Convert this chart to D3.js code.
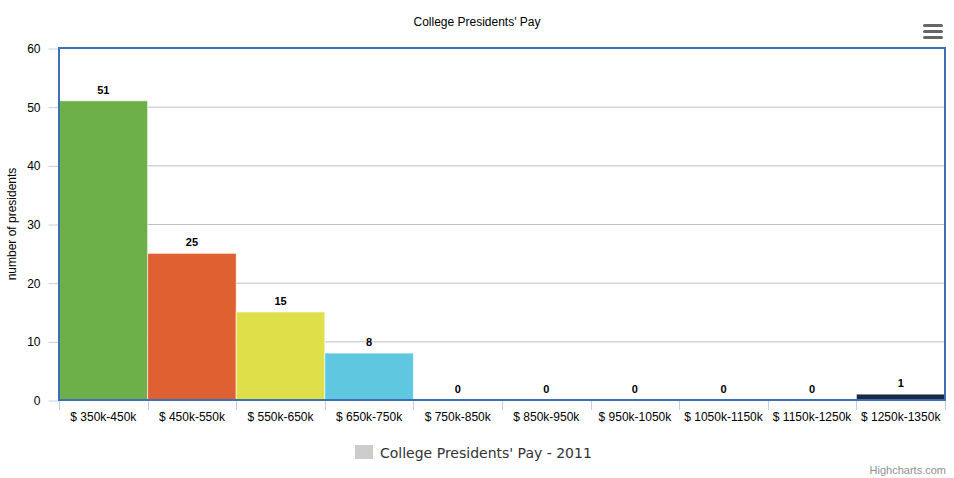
<!DOCTYPE html>
<html><head><meta charset="utf-8">
<script src="https://cdn.jsdelivr.net/npm/d3@7"></script>
<style>
body{margin:0;background:#fff;}
svg text{font-family:"Liberation Sans",Arial,sans-serif;}
</style></head>
<body><svg id="chart" width="954" height="478"></svg>
<script>
const categories = ["$ 350k-450k","$ 450k-550k","$ 550k-650k","$ 650k-750k","$ 750k-850k","$ 850k-950k","$ 950k-1050k","$ 1050k-1150k","$ 1150k-1250k","$ 1250k-1350k"];
const values = [51,25,15,8,0,0,0,0,0,1];
const barColors = ["#6db04a","#df6132","#dfdf4a","#5fc8e0","#4572a7","#4572a7","#4572a7","#4572a7","#4572a7","#1b2a44"];
const yTicks = [0,10,20,30,40,50,60];

const svg = d3.select("#chart");
const m = {l:59, r:945, t:48, b:400};
const x = d3.scaleBand().domain(categories).range([m.l, m.r]).padding(0);
const y = d3.scaleLinear().domain([0,60]).range([m.b, m.t]);

// gridlines
svg.append("g").selectAll("line").data(yTicks.filter(d=>d>0)).join("line")
  .attr("x1", m.l).attr("x2", m.r).attr("y1", d=>y(d)+0.5).attr("y2", d=>y(d)+0.5)
  .attr("stroke","#c0c0c0").attr("stroke-width",1);

// y axis
const yAxis = d3.axisLeft(y).tickValues(yTicks).tickSize(10).tickPadding(8);
const gy = svg.append("g").attr("transform",`translate(${m.l-0.5},0.5)`).call(yAxis);
gy.select(".domain").remove();
gy.selectAll(".tick line").attr("stroke","#c0d0e0");
gy.selectAll(".tick text").attr("font-size",12).attr("fill","#000").attr("dy","0.32em");

// x axis
const xAxis = d3.axisBottom(x).tickSize(0).tickPadding(12);
const gx = svg.append("g").attr("transform",`translate(0,${m.b})`).call(xAxis);
gx.select(".domain").remove();
gx.selectAll(".tick text").attr("font-size",12).attr("fill","#000");
// category boundary ticks
const bounds = categories.map(c=>x(c)).concat([m.r]);
svg.append("g").selectAll("line").data(bounds).join("line")
  .attr("x1",d=>Math.round(d)+0.5).attr("x2",d=>Math.round(d)+0.5)
  .attr("y1",m.b).attr("y2",m.b+10).attr("stroke","#c0d0e0");

// bars
svg.append("g").selectAll("rect").data(values).join("rect")
  .attr("x",(d,i)=>x(categories[i])).attr("width",x.bandwidth())
  .attr("y",d=>y(d)).attr("height",d=>y(0)-y(d))
  .attr("fill",(d,i)=>barColors[i]).attr("stroke","#fff").attr("stroke-width",1)
  .attr("stroke-opacity",(d)=>d>0?0.6:0);

// value labels
svg.append("g").selectAll("text").data(values).join("text")
  .attr("x",(d,i)=>x(categories[i])+x.bandwidth()/2)
  .attr("y",d=>y(d)-7).attr("text-anchor","middle")
  .attr("font-size",11).attr("font-weight","bold").attr("fill","#000")
  .text(d=>d);

// plot border
svg.append("rect").attr("x",m.l).attr("y",m.t).attr("width",m.r-m.l).attr("height",m.b-m.t)
  .attr("fill","none").attr("stroke","#3e70b5").attr("stroke-width",2);

// title
svg.append("text").attr("x",477).attr("y",26).attr("text-anchor","middle")
  .attr("font-size",12).attr("fill","#000").text("College Presidents' Pay");

// y title
svg.append("text").attr("transform",`translate(16,${(m.t+m.b)/2}) rotate(-90)`)
  .attr("text-anchor","middle").attr("font-size",12).attr("fill","#000").text("number of presidents");

// legend
svg.append("rect").attr("x",355).attr("y",445).attr("width",18).attr("height",14).attr("fill","#cccccc");
svg.append("text").attr("x",380).attr("y",458).attr("font-size",15).attr("fill","#333")
  .style("font-family","'DejaVu Sans',sans-serif").style("font-size","14px")
  .text("College Presidents' Pay - 2011");

// credits
svg.append("text").attr("x",946).attr("y",478-4).attr("text-anchor","end")
  .attr("font-size",11).attr("fill","#909090").text("Highcharts.com");

// menu icon
svg.append("g").selectAll("rect").data([0,1,2]).join("rect")
  .attr("x",923).attr("y",d=>24+d*6).attr("width",20).attr("height",3).attr("rx",1.5)
  .attr("fill","#666");
</script></body></html>
